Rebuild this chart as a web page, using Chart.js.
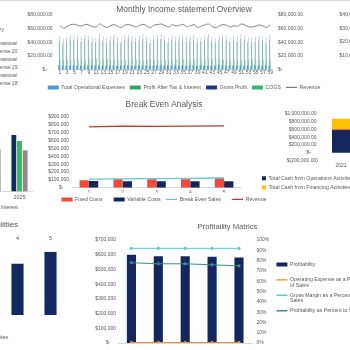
<!DOCTYPE html>
<html><head><meta charset="utf-8">
<script src="https://cdn.jsdelivr.net/npm/chart.js@4/dist/chart.umd.min.js"></script>
<style>
html,body{margin:0;padding:0;background:#fff;}
body{position:relative;width:350px;height:350px;overflow:hidden;font-family:"Liberation Sans",Arial,sans-serif;}
canvas{position:absolute;}
.t{position:absolute;white-space:nowrap;color:#595959;font-size:5px;line-height:7.5px;}
</style></head><body>
<div style="position:absolute;left:0;top:0;width:350px;height:1px;background:#d9d9d9"></div>

<div class="t" style="right:346px;top:26px">Salary</div>
<div class="t" style="left:-9px;top:40px">Operational<br>Expense 20</div>
<div class="t" style="left:-9px;top:56px">Operational<br>Expense 19</div>
<div class="t" style="left:-9px;top:72px">Operational<br>Expense 18</div>
<div class="t" style="right:332px;top:204px;font-size:5.2px">Profit After Tax &amp; Interest</div>
<div class="t" style="right:332px;top:220px;font-size:8px;line-height:10px">Assets &amp; Liabilities</div>
<div class="t" style="right:342px;top:334px;font-size:5.2px">Total Liabilities</div>

<canvas id="cM" width="332" height="98" style="left:18px;top:2px"></canvas>
<canvas id="cR" width="120" height="94" style="left:318px;top:2px"></canvas>
<canvas id="cBE" width="272" height="114" style="left:28px;top:98px"></canvas>
<canvas id="cY" width="135" height="82" style="left:-102px;top:122px"></canvas>
<canvas id="cL" width="165" height="82" style="left:-98px;top:233px"></canvas>
<canvas id="cC" width="252" height="94" style="left:258px;top:106px"></canvas>
<canvas id="cP" width="295" height="132" style="left:80px;top:218px"></canvas>

<script>
// ---------- DATA ----------
const monthLabels = [];
for (let i = 1; i <= 59; i++) monthLabels.push(String(i));
const opExMonthly = [6200,6100,6300,6000,6400,6200,6100,6500,6300,6000,
  6200,6400,6100,6000,6300,6500,6200,6100,6400,6300,
  6100,6000,6200,6500,6300,6000,6400,6200,6500,6100,
  6300,6200,6400,6100,6300,6000,6200,6500,6100,6400,
  6300,6100,6200,6000,6400,6500,6200,6100,6300,6200,
  6400,6100,6300,6000,6200,6500,6100,6300,6200];
const patMonthly = [42000,38500,41500,44500,44000,43500,41500,45000,43500,40500,
  39500,45500,42000,39000,43000,44500,41000,40000,43500,44500,
  42500,40500,43000,45000,41500,39000,43500,44500,45500,42500,
  40000,44500,41500,43000,44500,41000,42500,44000,39500,42000,
  43500,45500,41000,39000,42500,44500,43000,40500,42500,41500,
  45000,43500,40500,40500,41500,43500,42500,39500,44000];
const gpMonthly = [49000,45500,48000,51500,51000,50000,48500,51500,50500,47000,
  46500,52000,49000,46000,49500,51500,48000,46500,50500,51000,
  49500,47000,50000,52000,48500,45500,50500,51000,52500,49000,
  47000,51000,48500,50000,51500,47500,49500,51000,46500,48500,
  50500,52000,48000,45500,49500,51000,50000,47000,49500,48000,
  52000,50500,47500,47000,48500,50500,49000,46500,51000];
const cogsMonthly = [15500,15500,15500,14500,15500,15000,15500,15000,15000,16000,
  16000,15000,15000,16000,15000,14500,15500,15500,15000,15000,
  15000,15500,15000,14500,15500,16000,15000,15000,14500,15500,
  15500,15000,15500,15000,15000,15500,15000,15000,15500,15500,
  15000,15000,15500,16000,15000,15000,15000,15500,15000,15500,
  15000,15000,15500,15500,15500,15000,15000,15500,15000];
const revMonthly = [64500,61000,63500,66000,66500,65000,64000,66500,65500,63000,
  62500,67000,64000,62000,64500,66000,63500,62000,65500,66000,
  64500,62500,65000,66500,64000,61500,65500,66000,67000,64500,
  62500,66000,64000,65000,66500,63000,64500,66000,62000,64000,
  65500,67000,63500,61500,64500,66000,65000,62500,64500,63500,
  67000,65500,63000,62500,64000,65500,64000,62000,66000];

const beLabels = ['1','2','3','4','5'];
const fixedCosts = [95000,110000,110000,108000,128000];
const variableCosts = [85000,84000,84000,84000,84000];
const breakEvenSales = [110000,113000,116000,119000,125000];
const revenueBE = [775000,785000,782000,784000,788000];

const yearLabels = ['2021','2022','2023','2024','2025'];
const yearRevenue = [560000,600000,650000,690000,730000];
const yearGross = [500000,540000,580000,610000,652000];
const yearPAT = [420000,460000,500000,548000,535000];

const liabLabels = ['1','2','3','4','5'];
const liabValues = [610000,650000,680000,725000,890000];

const cashYears = ['2021','2022','2023','2024','2025'];
const cashOps = [590000,620000,650000,680000,700000];
const cashInv = [20000,20000,20000,20000,20000];
const cashFin = [270000,250000,230000,210000,200000];

const profLabels = ['1','2','3','4','5'];
const profitability = [600000,590000,590000,587000,582000];
const opexPct = [0.5,0.5,0.5,0.5,0.5];
const grossMarginPct = [92,92,92,92,92];
const profitPct = [78,77,77,76,75];

// ---------- HELPERS ----------
Chart.defaults.font.family = '"Liberation Sans", Arial, sans-serif';
Chart.defaults.color = '#595959';
Chart.defaults.animation = false;
Chart.defaults.responsive = false;
Chart.defaults.events = [];
Chart.defaults.plugins.tooltip.enabled = false;

const fmtDec = v => {
  if (v === 0) return '$-     ';
  const s = Math.abs(v).toLocaleString('en-US',{minimumFractionDigits:2,maximumFractionDigits:2});
  return v < 0 ? '$(' + s + ')' : '$' + s + ' ';
};
const fmt0 = v => v === 0 ? '$-    ' : '$' + v.toLocaleString('en-US');

const baseGen = Chart.defaults.plugins.legend.labels.generateLabels;
function legendItems(chart) {
  return baseGen(chart).sort((a,b) => a.datasetIndex - b.datasetIndex).map(it => {
    const ds = chart.data.datasets[it.datasetIndex];
    const isLine = (ds.type || chart.config.type) === 'line';
    it.pointStyle = isLine ? 'line' : 'rect';
    it.lineWidth = isLine ? 1.4 : 0;
    if (ds.legendColor) it.fillStyle = ds.legendColor;
    if (ds.legendGap) it.text = it.text + ' '.repeat(ds.legendGap);
    if (typeof it.text === 'string' && it.text.indexOf('\n') >= 0) it.text = it.text.split('\n');
    return it;
  });
}
const legendLabels = (extra) => Object.assign({
  font:{size:5.2}, color:'#595959', usePointStyle:true, pointStyleWidth:11,
  boxHeight:4, boxWidth:11, padding:5, generateLabels: legendItems
}, extra || {});
const titleOpt = (text, size, pad) => ({display:true, text, color:'#595959',
  font:{size, weight:'normal'}, padding: pad});
const noGrid = {display:false, drawTicks:false};
const yTicks = (step, cb, pad) => ({stepSize:step, font:{size:5}, padding:pad, autoSkip:false, callback:cb});
const spacerAxis = (w) => ({position:'right', display:true, grid:noGrid, border:{display:false},
  ticks:{display:false}, afterFit:s => {s.width = w;}});

// ---------- MONTHLY ----------
new Chart(document.getElementById('cM'), {
  type:'bar',
  data:{labels:monthLabels, datasets:[
    {label:'Total Operational Expenses', data:opExMonthly, backgroundColor:'#4E9BD6', xAxisID:'x2', order:1, barPercentage:0.8, categoryPercentage:1},
    {label:'Profit After Tax & Interest', data:patMonthly, backgroundColor:'#2FA565', order:2, barPercentage:1, categoryPercentage:0.75},
    {label:'Gross Profit', data:gpMonthly, backgroundColor:'#8F9AD2', legendColor:'#1F3A7A', order:2, barPercentage:1, categoryPercentage:0.75},
    {label:'COGS', data:cogsMonthly, backgroundColor:'#3CB371', order:2, barPercentage:1, categoryPercentage:0.75},
    {label:'Revenue', type:'line', data:revMonthly, borderColor:'#808080', borderWidth:1, pointRadius:0, order:0, tension:0.3}
  ]},
  options:{
    plugins:{
      title:titleOpt('Monthly Income statement Overview', 8.4, {top:3,bottom:0}),
      legend:{position:'bottom', labels:legendLabels()}
    },
    scales:{
      x:{grid:noGrid, border:{color:'#d9d9d9'}, afterFit:s => {s.height = 10;},
        ticks:{font:{size:5}, autoSkip:false, maxRotation:0, padding:0,
        callback:(v,i) => i % 2 === 0 ? monthLabels[i] : ''}},
      x2:{display:false, offset:true},
      y:{min:0, max:80000, grid:noGrid, border:{display:false},
        ticks:yTicks(20000, fmtDec, 4), afterFit:s => {s.width = 40;}},
      y2:{position:'right', min:0, max:80000, grid:noGrid, border:{display:false},
        ticks:yTicks(20000, fmtDec, 6), afterFit:s => {s.width = 78;}}
    }
  }
});

// ---------- FAR RIGHT (clipped axis) ----------
new Chart(document.getElementById('cR'), {
  type:'bar',
  data:{labels:[], datasets:[{label:'', data:[]}]},
  options:{
    layout:{padding:{bottom:27}},
    plugins:{title:titleOpt(' ', 8.4, {top:3,bottom:0}), legend:{display:false}},
    scales:{
      x:{display:false},
      y:{min:0, max:40000, grid:noGrid, border:{display:false},
        ticks:yTicks(10000, fmtDec, 3), afterFit:s => {s.width = 51;}}
    }
  }
});

// ---------- BREAK EVEN ----------
new Chart(document.getElementById('cBE'), {
  type:'bar',
  data:{labels:beLabels, datasets:[
    {label:'Fixed Costs', legendGap:5, data:fixedCosts, backgroundColor:'#EE4B3E', order:2, categoryPercentage:0.55, barPercentage:1},
    {label:'Variable Costs', legendGap:1, data:variableCosts, backgroundColor:'#12275E', order:2, categoryPercentage:0.55, barPercentage:1},
    {label:'Break Even Sales', legendGap:5, type:'line', data:breakEvenSales, borderColor:'#5CCBD3', borderWidth:1.3, pointRadius:0, order:1},
    {label:'Revenue', type:'line', data:revenueBE, borderColor:'#C0392B', borderWidth:1.3, pointRadius:0, order:1}
  ]},
  options:{
    plugins:{
      title:titleOpt('Break Even Analysis', 8.4, {top:2,bottom:7}),
      legend:{position:'bottom', labels:legendLabels({padding:4})}
    },
    scales:{
      x:{grid:noGrid, border:{color:'#d9d9d9'}, ticks:{font:{size:5}, padding:2}, afterFit:s => {s.height = 5;}},
      y:{min:0, max:900000, grid:noGrid, border:{display:false},
        ticks:yTicks(100000, fmt0, 3), afterFit:s => {s.width = 44;}},
      yPad: spacerAxis(59)
    }
  }
});

// ---------- YEARS (clipped left) ----------
new Chart(document.getElementById('cY'), {
  type:'bar',
  data:{labels:yearLabels, datasets:[
    {label:'Revenue', data:yearRevenue, backgroundColor:'#14275F', categoryPercentage:0.63, barPercentage:0.85},
    {label:'Gross Profit', data:yearGross, backgroundColor:'#3DB35E', categoryPercentage:0.63, barPercentage:0.85},
    {label:'Profit After Tax & Interest', data:yearPAT, backgroundColor:'#8C8C8C', categoryPercentage:0.63, barPercentage:0.85}
  ]},
  options:{
    plugins:{legend:{display:false}},
    scales:{
      x:{grid:noGrid, border:{color:'#d9d9d9'}, ticks:{font:{size:5.5}, padding:3}},
      y:{display:false, min:0, max:900000}
    }
  }
});

// ---------- LIABILITIES (clipped left) ----------
new Chart(document.getElementById('cL'), {
  type:'bar',
  data:{labels:liabLabels, datasets:[
    {label:'Total Liabilities', data:liabValues, backgroundColor:'#14275F', borderColor:'#c5cbe0', borderWidth:0.6, categoryPercentage:1, barPercentage:0.4}
  ]},
  options:{
    plugins:{legend:{display:false}},
    scales:{
      x:{position:'top', grid:noGrid, border:{display:false}, ticks:{font:{size:5.5}, padding:2}},
      y:{display:false, min:0, max:1000000}
    }
  }
});

// ---------- CASH FLOW ----------
new Chart(document.getElementById('cC'), {
  type:'bar',
  data:{labels:cashYears, datasets:[
    {label:'Total Cash from Operations Activities', data:cashOps, backgroundColor:'#14275F', categoryPercentage:1, barPercentage:0.5},
    {label:'Total Cash from Investing Activities', data:cashInv, backgroundColor:'#E8453C', categoryPercentage:1, barPercentage:0.5},
    {label:'Total Cash from Financing Activities', data:cashFin, backgroundColor:'#FFC000', categoryPercentage:1, barPercentage:0.5}
  ]},
  options:{
    plugins:{legend:{position:'bottom', align:'start', labels:legendLabels({padding:4, pointStyleWidth:4, boxWidth:4})}},
    scales:{
      x:{stacked:true, grid:noGrid, border:{display:false}, ticks:{font:{size:5}, padding:2}, afterFit:s => {s.height = 11;}},
      y:{stacked:true, min:-200000, max:1000000, grid:noGrid, border:{display:false},
        ticks:yTicks(200000, fmtDec, 5), afterFit:s => {s.width = 65;}},
      yPad: spacerAxis(7)
    }
  }
});

// ---------- PROFITABILITY ----------
new Chart(document.getElementById('cP'), {
  type:'bar',
  data:{labels:profLabels, datasets:[
    {label:'Profitability\n', data:profitability, backgroundColor:'#14275F', categoryPercentage:1, barPercentage:0.34, order:2},
    {label:'Operating Expense as a Percent\nof Sales', type:'line', data:opexPct, yAxisID:'y1', borderColor:'#F58A2E', backgroundColor:'#F58A2E', borderWidth:1, pointRadius:1.2, order:1},
    {label:'Gross Margin as a Percent of\nSales', type:'line', data:grossMarginPct, yAxisID:'y1', borderColor:'#5CCBD3', backgroundColor:'#5CCBD3', borderWidth:1, pointRadius:1.2, order:1},
    {label:'Profitability as Percent to Sales', type:'line', data:profitPct, yAxisID:'y1', borderColor:'#3D8C8C', backgroundColor:'#3D8C8C', borderWidth:1, pointRadius:1.2, order:1}
  ]},
  options:{
    plugins:{
      title:titleOpt('Profitaility Matrics', 7.6, {top:4,bottom:9}),
      legend:{position:'right', maxWidth:120,
        title:{display:true, text:' ', font:{size:6}, padding:0},
        labels:legendLabels({padding:5, font:{size:5.2, lineHeight:1.0}})}
    },
    scales:{
      x:{grid:noGrid, border:{color:'#d9d9d9'}, ticks:{display:false}},
      y:{min:0, max:700000, grid:noGrid, border:{display:false},
        ticks:yTicks(100000, fmt0, 2), afterFit:s => {s.width = 38;}},
      y1:{position:'right', min:0, max:100, grid:noGrid, border:{display:false},
        ticks:yTicks(10, v => v + '%', 4), afterFit:s => {s.width = 19;}}
    }
  }
});
</script>
</body></html>
